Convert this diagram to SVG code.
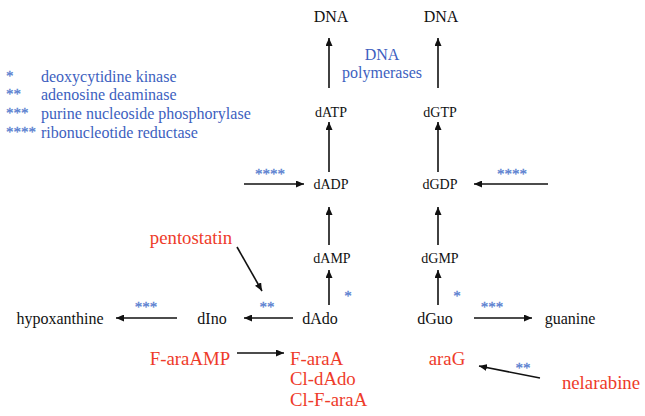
<svg xmlns="http://www.w3.org/2000/svg" width="645" height="416" viewBox="0 0 645 416">
<style>
text{font-family:"Liberation Serif","Times New Roman",serif;}
.k{fill:#111;font-size:16px}
.s{fill:#111;font-size:14px}
.b{fill:#3d5fc0;font-size:16px}
.bp{fill:#3d5fc0;font-size:16px}
.r{fill:#ee3b2a;font-size:18.8px}
.st{fill:#5a7fd0;font-size:15px;stroke:#5a7fd0;stroke-width:0.3}
.c line{stroke:#111;stroke-width:1.6;marker-end:url(#ah)}
</style>
<defs>
<marker id="ah" viewBox="0 0 10 10" refX="10" refY="5" markerWidth="8" markerHeight="7" orient="auto" markerUnits="userSpaceOnUse" preserveAspectRatio="none">
<path d="M0,0 L10,5 L0,10 z" fill="#111"/>
</marker>
</defs>
<rect width="645" height="416" fill="#fff"/>
<g id="legend">
<text class="st" x="6" y="81">*</text><text class="b" x="41" y="82">deoxycytidine kinase</text>
<text class="st" x="6" y="99">**</text><text class="b" x="41" y="100">adenosine deaminase</text>
<text class="st" x="6" y="118">***</text><text class="b" x="41" y="119">purine nucleoside phosphorylase</text>
<text class="st" x="6" y="137">****</text><text class="b" x="41" y="138">ribonucleotide reductase</text>
</g>
<g id="DNA1"><text class="k" x="331" y="22" text-anchor="middle">DNA</text></g>
<g id="DNA2"><text class="k" x="441" y="22" text-anchor="middle">DNA</text></g>
<g id="polymerases"><text class="bp" x="382" y="60" text-anchor="middle">DNA</text><text class="bp" x="382" y="78" text-anchor="middle">polymerases</text></g>
<g id="dATP"><text class="s" x="331" y="117" text-anchor="middle">dATP</text></g>
<g id="dGTP"><text class="s" x="440" y="117" text-anchor="middle">dGTP</text></g>
<g id="dADP"><text class="s" x="331" y="189" text-anchor="middle">dADP</text></g>
<g id="dGDP"><text class="s" x="440" y="189" text-anchor="middle">dGDP</text></g>
<g id="dAMP"><text class="s" x="332" y="263" text-anchor="middle">dAMP</text></g>
<g id="dGMP"><text class="s" x="440" y="263" text-anchor="middle">dGMP</text></g>
<g id="dAdo"><text class="k" x="320" y="324" text-anchor="middle">dAdo</text></g>
<g id="dGuo"><text class="k" x="435" y="324" text-anchor="middle">dGuo</text></g>
<g id="dIno"><text class="k" x="212" y="324" text-anchor="middle">dIno</text></g>
<g id="hypoxanthine"><text class="k" x="60" y="324" text-anchor="middle">hypoxanthine</text></g>
<g id="guanine"><text class="k" x="570" y="324" text-anchor="middle">guanine</text></g>
<g id="pentostatin"><text class="r" x="191" y="244" text-anchor="middle">pentostatin</text></g>
<g id="F-araAMP"><text class="r" x="190" y="365" text-anchor="middle">F-araAMP</text></g>
<g id="F-araA"><text class="r" x="290" y="365">F-araA</text><text class="r" x="290" y="385">Cl-dAdo</text><text class="r" x="290" y="406">Cl-F-araA</text></g>
<g id="araG"><text class="r" x="447" y="365" text-anchor="middle">araG</text></g>
<g id="nelarabine"><text class="r" x="601" y="389" text-anchor="middle">nelarabine</text></g>
<g id="stars">
<text class="st" x="270" y="179" text-anchor="middle">****</text>
<text class="st" x="512" y="179" text-anchor="middle">****</text>
<text class="st" x="146" y="312" text-anchor="middle">***</text>
<text class="st" x="267" y="312" text-anchor="middle">**</text>
<text class="st" x="348" y="301" text-anchor="middle">*</text>
<text class="st" x="457" y="301" text-anchor="middle">*</text>
<text class="st" x="492" y="312" text-anchor="middle">***</text>
<text class="st" x="523" y="373" text-anchor="middle">**</text>
</g>
<g id="connectors" class="c">
<line x1="329" y1="88" x2="329" y2="38"/>
<line x1="438" y1="88" x2="438" y2="38"/>
<line x1="329" y1="172" x2="329" y2="122"/>
<line x1="438" y1="172" x2="438" y2="122"/>
<line x1="329" y1="245" x2="329" y2="207"/>
<line x1="438" y1="245" x2="438" y2="207"/>
<line x1="329" y1="305" x2="329" y2="270"/>
<line x1="438" y1="305" x2="438" y2="270"/>
<line x1="244" y1="184" x2="304" y2="184"/>
<line x1="548" y1="184" x2="474" y2="184"/>
<line x1="177" y1="318" x2="116" y2="318"/>
<line x1="293" y1="318" x2="244" y2="318"/>
<line x1="474" y1="318" x2="532" y2="318"/>
<line x1="237" y1="247" x2="262" y2="291"/>
<line x1="237" y1="353" x2="284" y2="353"/>
<line x1="540" y1="378" x2="479" y2="366"/>
</g>
</svg>
